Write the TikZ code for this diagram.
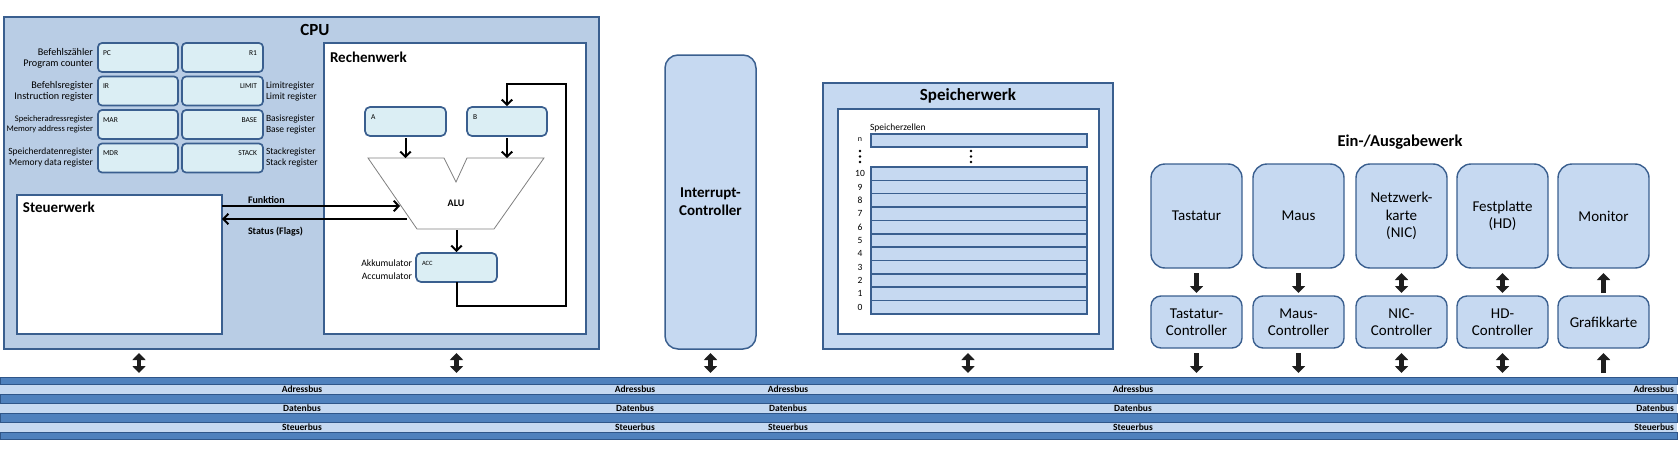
\documentclass[tikz,border=0pt]{standalone}
\usepackage{fontspec}
\setmainfont{Carlito}
\usetikzlibrary{arrows.meta,calc}
\definecolor{cpufill}{HTML}{B9CDE5}
\definecolor{bordc}{HTML}{3A5F8F}
\definecolor{regfill}{HTML}{DBEEF4}
\definecolor{iofill}{HTML}{C6D9F1}
\definecolor{busdark}{HTML}{4F81BD}
\definecolor{busline}{HTML}{2F5689}
\definecolor{arrc}{HTML}{1E1E1E}
\definecolor{alugray}{HTML}{808080}
\begin{document}
\begin{tikzpicture}[x=1pt,y=-1pt,
  box/.style={rectangle, draw=bordc, line width=1.5pt, inner sep=0pt, outer sep=0pt, anchor=north west},
  regbox/.style={box, fill=regfill, rounded corners=4pt, line width=1.7pt},
  iobox/.style={box, fill=iofill, rounded corners=14pt, line width=1.4pt, font=\fontsize{15}{17.5}\selectfont, align=center},
  ctrlbox/.style={iobox, rounded corners=10pt},
  cellbox/.style={box, fill=iofill, line width=1.5pt, minimum width=216pt},
  lbl/.style={inner sep=0pt, outer sep=0pt},
  ttl/.style={lbl, font=\bfseries\fontsize{15}{18}\selectfont},
  reglbl/.style={lbl, font=\fontsize{7.5}{9}\selectfont},
  side/.style={lbl, font=\fontsize{9.5}{11}\selectfont},
  sidebig/.style={lbl, font=\fontsize{10.2}{11}\selectfont},
  sidesm/.style={lbl, font=\fontsize{8.5}{10.5}\selectfont},
  thinarrow/.style={draw=black, line width=2pt, -{Straight Barb[length=5pt,width=10.5pt]}},
  blockarrow/.style={draw=arrc, line width=4.5pt, -{Triangle[length=7pt,width=13pt]}},
  dblarrow/.style={draw=arrc, line width=4.5pt, {Triangle[length=7pt,width=13pt]}-{Triangle[length=7pt,width=13pt]}},
  busfont/.style={lbl, font=\bfseries\fontsize{9.5}{11}\selectfont},
]
\useasboundingbox (0,0) rectangle (1680,455);

% ---------------- CPU ----------------
\node[box, fill=cpufill, minimum width=595pt, minimum height=332pt] (cpu) at (4,17) {};
\node[ttl, font=\bfseries\fontsize{17}{20}\selectfont] (cputitle) at (315,30) {CPU};

% registers
\node[regbox, minimum width=80pt, minimum height=29pt] (pc) at (98,43) {};
\node[regbox, minimum width=81pt, minimum height=29pt] (r1) at (182,43) {};
\node[regbox, minimum width=80pt, minimum height=29pt] (ir) at (98,76.5) {};
\node[regbox, minimum width=81pt, minimum height=29pt] (limit) at (182,76.5) {};
\node[regbox, minimum width=80pt, minimum height=29pt] (mar) at (98,110) {};
\node[regbox, minimum width=81pt, minimum height=29pt] (base) at (182,110) {};
\node[regbox, minimum width=80pt, minimum height=29pt] (mdr) at (98,143.5) {};
\node[regbox, minimum width=81pt, minimum height=29pt] (stack) at (182,143.5) {};

\node[reglbl, anchor=west] (tpc) at (103,53) {PC};
\node[reglbl, anchor=east] (tr1) at (257,53) {R1};
\node[reglbl, anchor=west] (tir) at (103,86.5) {IR};
\node[reglbl, anchor=east] (tlimit) at (257,86.5) {LIMIT};
\node[reglbl, anchor=west] (tmar) at (103,120) {MAR};
\node[reglbl, anchor=east] (tbase) at (257,120) {BASE};
\node[reglbl, anchor=west] (tmdr) at (103,153.5) {MDR};
\node[reglbl, anchor=east] (tstack) at (257,153.5) {STACK};

\node[sidebig, anchor=east, align=right] (l1) at (93,58.5) {Befehlszähler\\Program counter};
\node[sidebig, anchor=east, align=right] (l2) at (93,91.5) {Befehlsregister\\Instruction register};
\node[sidesm, anchor=east, align=right] (l3) at (93,124.5) {Speicheradressregister\\Memory address register};
\node[side, anchor=east, align=right] (l4) at (93,158) {Speicherdatenregister\\Memory data register};
\node[side, anchor=west, align=left] (r2l) at (266,91.5) {Limitregister\\Limit register};
\node[side, anchor=west, align=left] (r3l) at (266,124.5) {Basisregister\\Base register};
\node[side, anchor=west, align=left] (r4l) at (266,158) {Stackregister\\Stack register};

% Steuerwerk
\node[box, fill=white, minimum width=205pt, minimum height=139pt] (steuer) at (17,195) {};
\node[ttl, anchor=west] (steuertitle) at (23,207) {Steuerwerk};

% Rechenwerk
\node[box, fill=white, minimum width=262pt, minimum height=291pt] (rechen) at (324,43) {};
\node[ttl, anchor=west] (rechentitle) at (330,57) {Rechenwerk};

\node[regbox, rounded corners=5pt, minimum width=81pt, minimum height=29pt] (abox) at (365,107) {};
\node[regbox, rounded corners=5pt, minimum width=80pt, minimum height=29pt] (bbox) at (467,107) {};
\node[regbox, rounded corners=5pt, minimum width=81pt, minimum height=29pt] (accbox) at (416,253) {};
\node[reglbl, anchor=west] (ta) at (371,117) {A};
\node[reglbl, anchor=west] (tb) at (473,117) {B};
\node[reglbl, anchor=west, font=\fontsize{6.5}{8}\selectfont] (tacc) at (422,263) {ACC};
\node[lbl, anchor=east, align=right, font=\fontsize{9.7}{13}\selectfont] (akku) at (412,269.5) {Akkumulator\\Accumulator};

% ALU
\coordinate (alu1) at (368,158);
\coordinate (alu2) at (444,158);
\coordinate (alu3) at (456,182);
\coordinate (alu4) at (467,158);
\coordinate (alu5) at (544,158);
\coordinate (alur) at (494,229);
\coordinate (alul) at (417,229);
\filldraw[fill=white, draw=alugray, line width=0.8pt] (alu1) -- (alu2) -- (alu3) -- (alu4) -- (alu5) -- (alur) -- (alul) -- cycle;
\node[lbl, font=\bfseries\fontsize{10}{12}\selectfont] (alu) at (456,203) {ALU};

\draw[thinarrow, shorten <=2pt] (abox.south) -- (abox.south |- alu1);
\draw[thinarrow, shorten <=2pt] (bbox.south) -- (bbox.south |- alu1);
\draw[thinarrow, shorten <=1pt, shorten >=1pt] (accbox.north |- alul) -- (accbox.north);
\coordinate (loopc) at (566,84);
\draw[thinarrow, shorten >=1pt] (accbox.south) -- ++(0,24) -| (loopc) -| (bbox.north);

% Funktion / Status
\coordinate (fkpt) at ($(alu1)!0.676!(alul)$);
\coordinate (stpt) at ($(alu1)!0.859!(alul)$);
\draw[thinarrow, shorten >=1pt] (steuer.east |- fkpt) -- (fkpt);
\draw[thinarrow, shorten <=3pt] (stpt) -- (steuer.east |- stpt);
\node[lbl, anchor=west, font=\bfseries\fontsize{10}{12}\selectfont] (funk) at (248,200) {Funktion};
\node[lbl, anchor=west, font=\bfseries\fontsize{10}{12}\selectfont] (stat) at (248,232) {Status (Flags)};

% ---------------- Interrupt ----------------
\node[iobox, rounded corners=13pt, line width=1.5pt, minimum width=91pt, minimum height=294pt, font=\bfseries\fontsize{15}{18}\selectfont] (intc) at (665,55) {Interrupt-\\Controller};

% ---------------- Speicherwerk ----------------
\node[box, fill=iofill, minimum width=290pt, minimum height=266pt] (spw) at (823,83) {};
\node[ttl, font=\bfseries\fontsize{17}{20}\selectfont] (spwtitle) at (968,96) {Speicherwerk};
\node[box, fill=white, minimum width=261pt, minimum height=225pt] (spinner) at (838,109) {};
\node[lbl, anchor=west, font=\fontsize{9.5}{11}\selectfont] (szl) at (870,128) {Speicherzellen};
\node[cellbox, minimum height=13pt] (celln) at (871,134) {};
\node[lbl, font=\fontsize{8}{10}\selectfont] (labn) at (860,140) {n};
\foreach \k in {0,...,10}{
  \pgfmathsetmacro{\yy}{167+13.36*\k}
  \pgfmathsetmacro{\yc}{167+13.36*\k+6.68}
  \pgfmathtruncatemacro{\lab}{10-\k}
  \node[cellbox, minimum height=13.36pt] (cell\lab) at (871,\yy) {};
  \node[lbl, font=\fontsize{9.5}{11}\selectfont] (lab\lab) at (860,\yc) {\lab};
}
\foreach \yy in {151,156.5,162}{
  \fill (860,\yy) circle (1.3pt);
  \fill (971,\yy) circle (1.3pt);
}

% ---------------- Ein-/Ausgabewerk ----------------
\node[ttl, font=\bfseries\fontsize{16.5}{20}\selectfont] (iotitle) at (1400,142) {Ein-/Ausgabewerk};
\node[iobox, minimum width=91pt, minimum height=104pt] (tast) at (1151,164) {Tastatur};
\node[iobox, minimum width=91pt, minimum height=104pt] (maus) at (1253,164) {Maus};
\node[iobox, minimum width=91pt, minimum height=104pt] (nic) at (1356,164) {Netzwerk-\\karte\\(NIC)};
\node[iobox, minimum width=91pt, minimum height=104pt] (hd) at (1457,164) {Festplatte\\(HD)};
\node[iobox, minimum width=91pt, minimum height=104pt] (mon) at (1558,164) {Monitor};
\node[ctrlbox, minimum width=91pt, minimum height=52pt] (tastc) at (1151,296) {Tastatur-\\Controller};
\node[ctrlbox, minimum width=91pt, minimum height=52pt] (mausc) at (1253,296) {Maus-\\Controller};
\node[ctrlbox, minimum width=91pt, minimum height=52pt] (nicc) at (1356,296) {NIC-\\Controller};
\node[ctrlbox, minimum width=91pt, minimum height=52pt] (hdc) at (1457,296) {HD-\\Controller};
\node[ctrlbox, minimum width=91pt, minimum height=52pt] (grafc) at (1558,296) {Grafikkarte};

% ---------------- Bus ----------------
\node[lbl, minimum width=1677pt, minimum height=62pt, anchor=north west] (bus) at (0,377) {};
\node[lbl, fill=iofill, minimum width=1677pt, minimum height=10pt, anchor=north west] (adr) at (0,384) {};
\node[lbl, fill=iofill, minimum width=1677pt, minimum height=10pt, anchor=north west] (dat) at (0,403) {};
\node[lbl, fill=iofill, minimum width=1677pt, minimum height=10pt, anchor=north west] (ste) at (0,422) {};
\foreach \ya/\yb in {377/384,394/403,413/422,432/439}{
  \filldraw[fill=busdark, draw=busline, line width=1pt] (0,\ya) rectangle (1677,\yb);
}
\foreach \xx in {302,635,788,1133}{
  \node[busfont] at (\xx,389) {Adressbus};
  \node[busfont] at (\xx,408) {Datenbus};
  \node[busfont] at (\xx,427) {Steuerbus};
}
\node[busfont, anchor=east] (adrr) at (1674,389) {Adressbus};
\node[busfont, anchor=east] (datr) at (1674,408) {Datenbus};
\node[busfont, anchor=east] (ster) at (1674,427) {Steuerbus};

% ---------------- Bus arrows ----------------
\coordinate (cpuport) at (139,349);
\draw[dblarrow, shorten <=4pt, shorten >=4pt] (cpuport) -- (cpuport |- bus.north);
\draw[dblarrow, shorten <=4pt, shorten >=4pt] (accbox.south |- cpu.south) -- (accbox.south |- bus.north);
\draw[dblarrow, shorten <=4pt, shorten >=4pt] (intc.south) -- (intc.south |- bus.north);
\draw[dblarrow, shorten <=4pt, shorten >=4pt] (spw.south) -- (spw.south |- bus.north);

\draw[blockarrow, shorten <=5pt, shorten >=3pt] (tast.south) -- (tastc.north);
\draw[blockarrow, shorten <=5pt, shorten >=3pt] (maus.south) -- (mausc.north);
\draw[dblarrow, shorten <=5pt, shorten >=3pt] (nic.south) -- (nicc.north);
\draw[dblarrow, shorten <=5pt, shorten >=3pt] (hd.south) -- (hdc.north);
\draw[blockarrow, shorten <=3pt, shorten >=5pt] (grafc.north) -- (mon.south);

\draw[blockarrow, shorten <=5pt, shorten >=4pt] (tastc.south) -- (tastc.south |- bus.north);
\draw[blockarrow, shorten <=5pt, shorten >=4pt] (mausc.south) -- (mausc.south |- bus.north);
\draw[dblarrow, shorten <=5pt, shorten >=4pt] (nicc.south) -- (nicc.south |- bus.north);
\draw[dblarrow, shorten <=5pt, shorten >=4pt] (hdc.south) -- (hdc.south |- bus.north);
\draw[blockarrow, shorten <=4pt, shorten >=5pt] (grafc.south |- bus.north) -- (grafc.south);
\end{tikzpicture}
\end{document}
